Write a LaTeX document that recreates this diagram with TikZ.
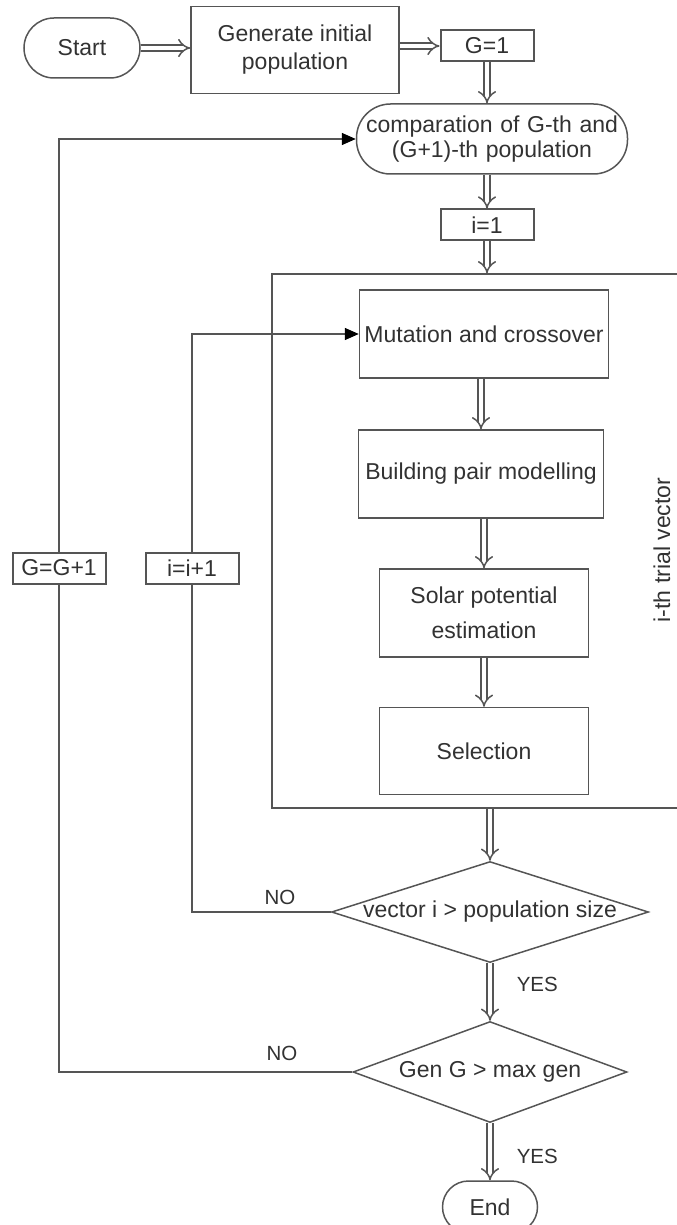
\documentclass[tikz,border=0pt]{standalone}
\usepackage{fontspec}
\setmainfont{Liberation Sans}
\usetikzlibrary{shapes.geometric, arrows.meta}
\definecolor{linegray}{RGB}{85,85,85}
\definecolor{textgray}{RGB}{50,50,50}
\tikzset{
every picture/.style={line width=0.75pt, x=0.5pt, y=-0.5pt},
%%%%%%%%%%  Node styles
process/.style={rectangle, draw=linegray, text=textgray, align=center,
                inner sep=0pt},
terminal/.style={rectangle, rounded corners=#1, draw=linegray, text=textgray,
                 align=center, inner sep=0pt},
counter/.style={rectangle, draw=linegray, line width=1pt, text=textgray,
                inner sep=0pt, minimum width=46.5pt, minimum height=15.5pt},
decision/.style={diamond, draw=linegray, text=textgray, inner sep=0pt},
small_label/.style={text=textgray, inner sep=0pt,
                    font=\fontsize{10.25}{12}\selectfont},
%%%% different line styles:
double_arrow/.style={draw=linegray, line width=0.75pt, double,
                     double distance=2.4pt, -{Implies}},
loop_arrow/.style={draw=linegray, -{Triangle[length=7pt,width=6pt,color=black]}}
}
\begin{document}
\begin{tikzpicture}[font=\fontsize{11.5}{14}\selectfont]
\useasboundingbox (0,0) rectangle (676,1225);
%% top row
\node[terminal=15pt, minimum width=58pt, minimum height=30pt] (start) at (82,48) {Start};
\node[process, minimum width=104pt, minimum height=43.5pt] (gen) at (295,50) {Generate initial\\population};
\node[counter] (g_one) at (487,46) {G=1};
\node[terminal=17pt, minimum width=135.5pt, minimum height=35pt, text width=135pt,
      font=\fontsize{11.5}{12.5}\selectfont] (comp) at (492,139) {comparation of G-th and\\(G+1)-th population};
\node[counter] (i_one) at (487,225) {i=1};
%%%%%%%%%%%%%%%%%%%%%%%%%%%%%%%%%%%%%%%%%%%%%%
%% trial vector block
\node[draw=linegray, minimum width=214pt, minimum height=267pt, inner sep=0pt] (trial) at (486,541) {};
\node[text=textgray, rotate=90] (trial_label) at (662,550) {i-th trial vector};
\node[process, minimum width=124.5pt, minimum height=44pt] (mut) at (484,334) {Mutation and crossover};
\node[process, minimum width=122.5pt, minimum height=44pt] (build) at (481,474) {Building pair modelling};
\node[process, minimum width=104.5pt, minimum height=44pt] (solar) at (484,613) {Solar potential\\[3.5pt]estimation};
\node[process, minimum width=104.5pt, minimum height=43.5pt] (sel) at (484,751) {Selection};
%%%%%%%%%%%%%%%%%%%%%%%%%%%%%%%%%%%%%%%%%%%%%%
%% decisions
\node[decision, minimum width=158.5pt, minimum height=50.5pt] (vec_check) at (490,912) {\makebox[0pt]{vector i > population size}};
\node[decision, minimum width=137pt, minimum height=50.5pt] (gen_check) at (490,1072) {\makebox[0pt]{Gen G > max gen}};
\node[terminal=13pt, minimum width=47.5pt, minimum height=26pt] (end) at (490,1207) {End};
%% counters on the loops
\node[counter] (g_next) at (59,568) {G=G+1};
\node[counter] (i_next) at (192,568) {i=i+1};
%%%%%%%%%%%%%%%%%%%%%%%%%%%%%%%%%%%%%%%%%%%%%%
%% double arrows
\draw[double_arrow] (start) -- (start -| gen.west);
\draw[double_arrow] (gen.east |- g_one) -- (g_one);
\draw[double_arrow] (g_one) -- (g_one |- comp.north);
\draw[double_arrow] (comp.south -| i_one) -- (i_one);
\draw[double_arrow] (i_one) -- (i_one |- trial.north);
\draw[double_arrow] (mut.south -| build) -- (build);
\draw[double_arrow] (build.south -| solar) -- (solar);
\draw[double_arrow] (solar) -- (sel);
\draw[double_arrow] (trial.south -| vec_check) -- (vec_check);
\draw[double_arrow] (vec_check) -- node[small_label, right=13pt, pos=0.37] (yes_vec) {YES} (gen_check);
\draw[double_arrow] (gen_check) -- node[small_label, right=13pt, pos=0.59] (yes_gen) {YES} (end);
%% loops back
\draw[linegray] (vec_check.west) -| (i_next.south);
\draw[loop_arrow] (i_next.north) |- (mut.west);
\node[small_label] (no_vec) at (280,897) {NO};
\draw[linegray] (gen_check.west) -| (g_next.south);
\draw[loop_arrow] (g_next.north) |- (comp.west);
\node[small_label] (no_gen) at (282,1053) {NO};
\end{tikzpicture}
\end{document}
